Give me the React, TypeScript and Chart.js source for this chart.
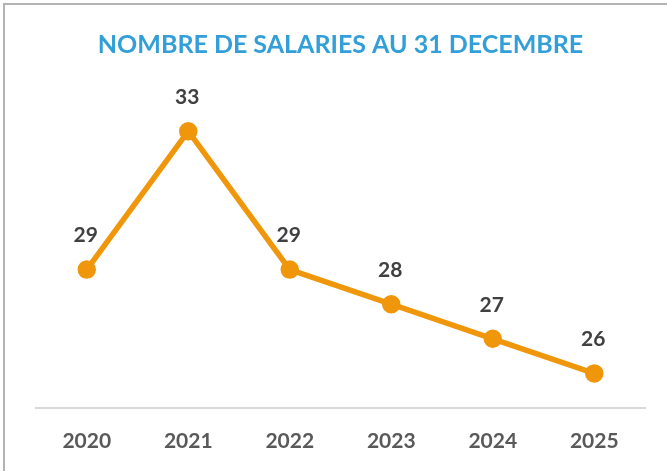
import React, { useEffect, useRef } from "react";
import { Chart, registerables } from "chart.js";

Chart.register(...registerables);

const years = ["2020", "2021", "2022", "2023", "2024", "2025"];
const salaries = [29, 33, 29, 28, 27, 26];
const title = "NOMBRE DE SALARIES AU 31 DECEMBRE";

const valueLabels = {
  id: "valueLabels",
  afterDatasetsDraw(chart: any) {
    const ctx = chart.ctx;
    const meta = chart.getDatasetMeta(0);
    ctx.save();
    ctx.font = "bold 21px Lato, 'Open Sans', sans-serif";
    ctx.fillStyle = "#404040";
    ctx.textAlign = "center";
    ctx.textBaseline = "middle";
    meta.data.forEach((pt: any, i: number) => {
      ctx.fillText(String(salaries[i]), pt.x - 1, pt.y - 34);
    });
    ctx.restore();
  },
};

export default function App() {
  const ref = useRef<HTMLCanvasElement>(null);
  useEffect(() => {
    if (!ref.current) return;
    const chart = new Chart(ref.current, {
      type: "line",
      data: {
        labels: years,
        datasets: [
          {
            data: salaries,
            borderColor: "#f0960a",
            backgroundColor: "#f0960a",
            borderWidth: 5.5,
            pointRadius: 6.5,
            pointHoverRadius: 6.5,
            pointBackgroundColor: "#f0960a",
            pointBorderColor: "#f0960a",
            tension: 0,
            clip: false as any,
          },
        ],
      },
      options: {
        responsive: false,
        animation: false,
        layout: { padding: { left: 36, right: 22, top: 0, bottom: 0 } },
        plugins: {
          legend: { display: false },
          tooltip: { enabled: false },
          title: {
            display: true,
            text: title,
            color: "#339fd8",
            font: { family: "Lato, 'Open Sans', sans-serif", size: 25, weight: "bold" },
            padding: { top: 30, bottom: 2 },
          },
        },
        scales: {
          x: {
            offset: true,
            grid: { display: false, drawTicks: false },
            border: { display: true, color: "#d9d9d9", width: 2 },
            afterFit: (scale: any) => {
              scale.height = 63;
            },
            ticks: {
              color: "#595959",
              padding: 21,
              font: { family: "Lato, 'Open Sans', sans-serif", size: 21, weight: "bold" },
            },
          },
          y: {
            display: false,
            min: 25,
            max: 35,
          },
        },
      },
      plugins: [valueLabels],
    });
    return () => chart.destroy();
  }, []);
  return (
    <div style={{ position: "fixed", left: 0, top: 0, width: 667, height: 471, background: "#fff", overflow: "hidden" }}>
      <div
        style={{
          position: "absolute",
          left: 3,
          top: 3,
          width: 672,
          height: 480,
          border: "2px solid #b4b4b4",
        }}
      />
      <canvas ref={ref} width={667} height={471} style={{ position: "absolute", left: 0, top: 0 }} />
    </div>
  );
}
